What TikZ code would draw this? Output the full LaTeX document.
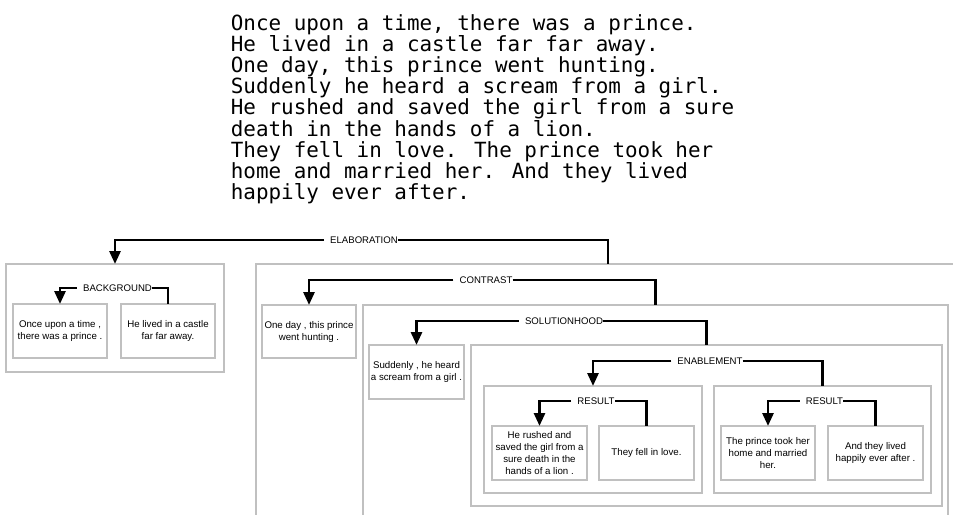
\documentclass[tikz,border=0pt]{standalone}
\usepackage{fontspec}
\setmainfont{Liberation Sans}
\newfontfamily\storyfont{DejaVu Sans Mono}
\usetikzlibrary{arrows.meta}
\definecolor{frame}{RGB}{192,192,192}
\begin{document}
\begin{tikzpicture}[x=1pt,y=-1pt,
  span/.style={draw=frame, line width=1.3pt, outer sep=0pt, inner sep=0pt},
  unit/.style={span, align=center, font=\fontsize{9.7}{12}\selectfont},
  rel/.style={inner sep=0pt, font=\fontsize{9.6}{11}\selectfont},
  tobranch/.style={line width=2.8pt, -{Triangle[width=11pt,length=13pt]}},
  frombranch/.style={line width=2.8pt}]
\useasboundingbox (0,0) rectangle (953,514);
\clip (0,0) rectangle (953,514);

% the story
\node[anchor=north west, inner sep=0pt, align=left,
      font=\storyfont\fontsize{20.9}{21.2}\selectfont] (story) at (230.7,14)
  {Once upon a time, there was a prince.\\
   He lived in a castle far far away.\\
   One day, this prince went hunting.\\
   Suddenly he heard a scream from a girl.\\
   He rushed and saved the girl from a sure\\
   death in the hands of a lion.\\
   They fell in love. The prince took her\\
   home and married her. And they lived\\
   happily ever after.};

% spans
\node[span, minimum width=218pt, minimum height=108pt] (bg)   at (115,318) {};
\node[span, minimum width=704pt, minimum height=266pt] (cont) at (608,397) {};
\node[span, minimum width=585pt, minimum height=225pt] (sol)  at (655.5,417.5) {};
\node[span, minimum width=471pt, minimum height=161pt] (enab) at (706.5,425.5) {};
\node[span, minimum width=218pt, minimum height=107pt] (resA) at (593,439.5) {};
\node[span, minimum width=217pt, minimum height=107pt] (resB) at (822.5,439.5) {};

% elementary units
\node[unit, minimum width=94pt, minimum height=54pt] (u1) at (60,331)
  {Once upon a time ,\\there was a prince .};
\node[unit, minimum width=94pt, minimum height=54pt] (u2) at (168,331)
  {He lived in a castle\\far far away.};
\node[unit, minimum width=94pt, minimum height=53pt] (u3) at (309,331.5)
  {One day , this prince\\went hunting .};
\node[unit, minimum width=95pt, minimum height=54pt] (u4) at (416.5,372)
  {Suddenly , he heard\\a scream from a girl .};
\node[unit, minimum width=95pt, minimum height=54pt] (u5) at (539.5,453)
  {He rushed and\\saved the girl from a\\sure death in the\\hands of a lion .};
\node[unit, minimum width=95pt, minimum height=54pt] (u6) at (646.5,453)
  {They fell in love.};
\node[unit, minimum width=94pt, minimum height=54pt] (u7) at (768,453)
  {The prince took her\\home and married\\her.};
\node[unit, minimum width=95pt, minimum height=54pt] (u8) at (875.5,453)
  {And they lived\\happily ever after .};

% relation labels
\node[rel] (elab) at (364,240)   {ELABORATION};
\node[rel] (back) at (117.5,288) {BACKGROUND};
\node[rel] (ctr)  at (486,280)   {CONTRAST};
\node[rel] (solh) at (564,321)   {SOLUTIONHOOD};
\node[rel] (enb)  at (710,361)   {ENABLEMENT};
\node[rel] (rsA)  at (596,401)   {RESULT};
\node[rel] (rsB)  at (824.5,401) {RESULT};

% relation connectors
\draw[tobranch]   ([xshift=-6pt]elab.west) -| (bg.north);
\draw[frombranch] (elab.east) -| (cont.north);
\draw[tobranch]   ([xshift=-6pt]back.west) -| (u1.north);
\draw[frombranch] (back.east) -| (u2.north);
\draw[tobranch]   ([xshift=-6pt]ctr.west) -| (u3.north);
\draw[frombranch] (ctr.east) -| (sol.north);
\draw[tobranch]   ([xshift=-6pt]solh.west) -| (u4.north);
\draw[frombranch] (solh.east) -| (enab.north);
\draw[tobranch]   ([xshift=-6pt]enb.west) -| (resA.north);
\draw[frombranch] (enb.east) -| (resB.north);
\draw[tobranch]   ([xshift=-6pt]rsA.west) -| (u5.north);
\draw[frombranch] (rsA.east) -| (u6.north);
\draw[tobranch]   ([xshift=-6pt]rsB.west) -| (u7.north);
\draw[frombranch] (rsB.east) -| (u8.north);
\end{tikzpicture}
\end{document}
